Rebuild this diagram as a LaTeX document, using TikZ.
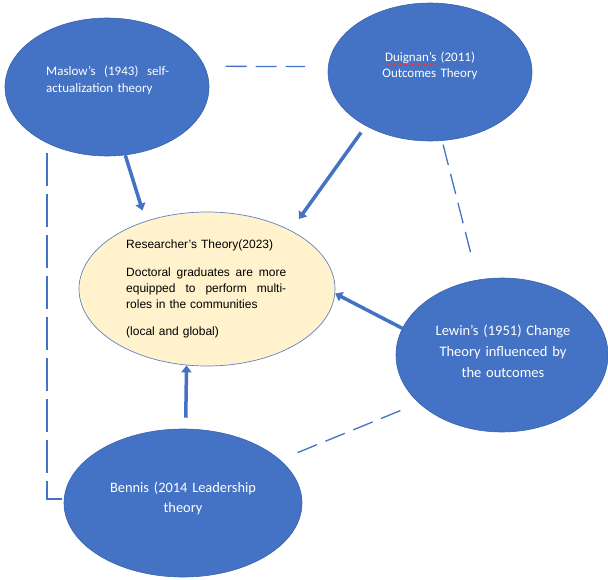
\documentclass[tikz,border=0pt]{standalone}
\usepackage{fontspec}
\setmainfont{Carlito}
\newfontfamily\arialfont{Liberation Sans}
\usepackage{xcolor}
\usetikzlibrary{arrows.meta,positioning,shapes.geometric,decorations.pathmorphing}

\definecolor{theoryblue}{HTML}{4472C4}
\definecolor{theoryedge}{HTML}{3B63AE}
\definecolor{corefill}{HTML}{FFF2CC}

\newcommand\spreadline[2]{\makebox[#1][s]{\spaceskip=0.25em plus 1fil\relax #2}}

\begin{document}
\begin{tikzpicture}[x=1pt, y=-1pt,
  theory/.style={ellipse, draw=theoryedge, fill=theoryblue, line width=0.6pt, inner sep=0pt},
  core/.style={ellipse, draw=theoryedge!80, fill=corefill, line width=0.7pt, inner sep=0pt},
  bluetxt/.style={text=white, align=center, inner sep=0pt, anchor=base},
  push/.style={draw=theoryblue, line width=3.5pt, -{Triangle[length=7pt,width=10pt]}},
  tie/.style={draw=theoryblue, line width=1.3pt, dash pattern=on 21pt off 9pt}
]

\useasboundingbox (0,0) rectangle (608,579);

\node[theory, minimum width=204pt, minimum height=138pt] (maslow) at (107,87) {};
\node[theory, minimum width=204pt, minimum height=138pt] (duignan) at (430,72) {};
\node[core, minimum width=256pt, minimum height=154pt] (res) at (207,289) {};
\node[theory, minimum width=212pt, minimum height=154pt] (lewin) at (502,355) {};
\node[theory, minimum width=238pt, minimum height=148pt] (bennis) at (183,503) {};

\node[bluetxt, anchor=base west, text width=123pt, align=left, font=\fontsize{13}{17}\selectfont] (maslow-t) at (46,75)
  {\spreadline{123pt}{Maslow’s (1943) self-}\\actualization theory};
\node[bluetxt, text width=130pt, font=\fontsize{13}{16}\selectfont] (duignan-t) at (430,61)
  {Duignan’s (2011)\\Outcomes Theory};
\node[bluetxt, text width=170pt, font=\fontsize{14.5}{21}\selectfont] (lewin-t) at (503,335)
  {Lewin’s (1951) Change\\Theory influenced by\\the outcomes};
\node[bluetxt, text width=170pt, font=\fontsize{14.4}{20}\selectfont] (bennis-t) at (183,492)
  {Bennis (2014 Leadership\\theory};

\node[anchor=base west, text width=160pt, align=left, inner sep=0pt, font=\arialfont\fontsize{12}{16}\selectfont] (res-t) at (126,248)
  {Researcher’s Theory(2023)\\[12pt]
   \spreadline{160pt}{Doctoral graduates are more}\\
   \spreadline{160pt}{equipped to perform multi-}\\
   roles in the communities\\[11pt]
   (local and global)};

\draw[red!80, line width=0.5pt, decorate, decoration={snake, amplitude=0.7pt, segment length=3pt}]
  ([xshift=-44pt, yshift=-3pt]duignan-t.base) -- ([xshift=7pt, yshift=-3pt]duignan-t.base);

\draw[push, shorten >=11pt] (maslow.-75) -- (res.132);
\draw[push, shorten <=8pt, shorten >=14pt] (duignan.220) -- (res.35);
\draw[push] (lewin.165) -- (res.-2);
\draw[push, shorten <=11pt] (bennis.88) -- (res.-105);

\draw[tie, shorten <=21pt, shorten >=23pt] (maslow.12) -- (duignan.177);
\draw[tie, shorten <=4pt, shorten >=24pt] (duignan.-80) -- (lewin.108);
\draw[tie, shorten <=19pt, shorten >=15pt] (bennis.24) -- (lewin.210);
\draw[tie, dash pattern=on 33pt off 8pt, shorten <=10pt] (maslow.223) |- (bennis.178);

\end{tikzpicture}
\end{document}
